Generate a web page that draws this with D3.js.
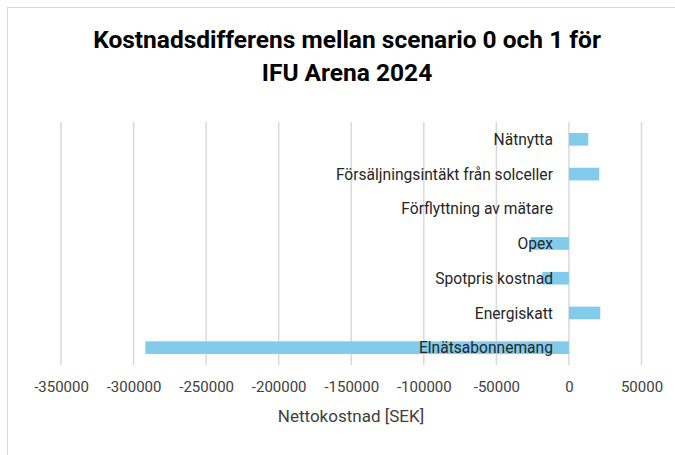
<!DOCTYPE html>
<html>
<head>
<meta charset="utf-8">
<script src="https://cdn.jsdelivr.net/npm/d3@7"></script>
<style>
  body { margin: 0; background: #fff; }
  text { font-family: Roboto, "Liberation Sans", sans-serif; }
</style>
</head>
<body>
<script>
// top to bottom, as shown in the chart
var categories = ['Nätnytta', 'Försäljningsintäkt från solceller', 'Förflyttning av mätare',
  'Opex', 'Spotpris kostnad', 'Energiskatt', 'Elnätsabonnemang'];
var values = [13300, 20900, 0, -26300, -18300, 21600, -291900];
var xTicks = [-350000, -300000, -250000, -200000, -150000, -100000, -50000, 0, 50000];
var titleLines = ['Kostnadsdifferens mellan scenario 0 och 1 för', 'IFU Arena 2024'];
var axisTitle = 'Nettokostnad [SEK]';

var w = 675;
var h = 455;

var svg = d3.select('body')
  .append('svg')
  .attr('width', w)
  .attr('height', h);

svg.append('rect')
  .attr('width', w)
  .attr('height', h)
  .attr('fill', '#fff');

// chart frame (runs off the right and bottom of the picture)
svg.append('rect')
  .attr('x', 7.5)
  .attr('y', 7.5)
  .attr('width', w + 20)
  .attr('height', h + 20)
  .attr('fill', 'none')
  .attr('stroke', '#d9d9d9');

var x = d3.scaleLinear()
  .domain([-350000, 50000])
  .range([61, 641.5]);

var y = d3.scaleBand()
  .domain(categories)
  .range([122, 365])
  .paddingInner(0.635)
  .paddingOuter(0.3175);

svg.append('g')
  .selectAll('text')
  .data(titleLines)
  .enter()
  .append('text')
  .attr('x', 347)
  .attr('y', function (d, i) { return 47.5 + i * 33; })
  .attr('text-anchor', 'middle')
  .attr('font-size', 24.5)
  .attr('font-weight', 'bold')
  .attr('fill', '#000')
  .text(function (d) { return d; });

// vertical gridlines
svg.append('g')
  .selectAll('line')
  .data(xTicks)
  .enter()
  .append('line')
  .attr('x1', function (d) { return x(d); })
  .attr('x2', function (d) { return x(d); })
  .attr('y1', 122)
  .attr('y2', 365)
  .attr('stroke', '#d9d9d9')
  .attr('stroke-width', 1.5);

var xAxis = d3.axisBottom(x)
  .tickValues(xTicks)
  .tickFormat(function (d) { return String(d); })
  .tickSize(0)
  .tickPadding(0);

var gx = svg.append('g')
  .attr('transform', 'translate(0,381)')
  .call(xAxis);
gx.select('.domain').remove();
gx.selectAll('text')
  .attr('font-family', 'Roboto, sans-serif')
  .attr('font-size', 15)
  .attr('fill', '#404040')
  .attr('dy', '0.71em');

svg.append('g')
  .selectAll('rect')
  .data(values)
  .enter()
  .append('rect')
  .attr('x', function (d) { return x(Math.min(0, d)); })
  .attr('y', function (d, i) { return y(categories[i]); })
  .attr('width', function (d) { return Math.abs(x(d) - x(0)); })
  .attr('height', y.bandwidth())
  .attr('fill', '#83cbeb');

// category labels sit next to the zero axis, over the bars
svg.append('g')
  .selectAll('text')
  .data(categories)
  .enter()
  .append('text')
  .attr('x', x(0) - 16)
  .attr('y', function (d) { return y(d) + y.bandwidth() / 2; })
  .attr('dy', '0.36em')
  .attr('text-anchor', 'end')
  .attr('font-size', 15.6)
  .attr('fill', '#262626')
  .text(function (d) { return d; });

svg.append('text')
  .attr('x', 351)
  .attr('y', 421.5)
  .attr('text-anchor', 'middle')
  .attr('font-size', 17)
  .attr('fill', '#404040')
  .text(axisTitle);
</script>
</body>
</html>
